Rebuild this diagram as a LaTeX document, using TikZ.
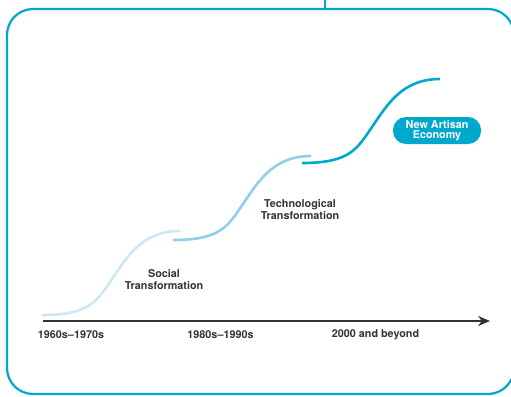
\documentclass[tikz,border=0pt]{standalone}
\usepackage{fontspec}
\setmainfont{TeX Gyre Heros}
\usetikzlibrary{arrows.meta}
\definecolor{cyanline}{HTML}{00A8CB}
\definecolor{midline}{HTML}{8FD0E6}
\definecolor{paleline}{HTML}{CDE8F2}
\definecolor{labelgray}{HTML}{333333}
\tikzset{
    wave/.style={line width=2.6pt},
    stagetext/.style={text=labelgray, font=\bfseries\fontsize{10.8}{12}\selectfont, align=center, inner sep=0pt},
    pill/.style={fill=cyanline, text=white, font=\bfseries\fontsize{10.8}{10}\selectfont, align=center,
        rounded corners=13pt, minimum width=88pt, minimum height=27pt, inner sep=0pt}
}
\begin{document}
\begin{tikzpicture}[x=1pt, y=-1pt]

        \useasboundingbox (0,0) rectangle (511,396);
        \clip (0,0) rectangle (511,396);
        \draw[cyanline, line width=2.2pt, rounded corners=26pt] (7,9) rectangle (514,394);
        \draw[cyanline, line width=2.2pt] (325,0) -- (325,9);

        \foreach \col/\x/\y in {paleline/42/315, midline/173/240, cyanline/302/163}
            \draw[wave, \col, shift={(\x,\y)}] (0,0) .. controls (48,0) and (55,-14) .. (70,-36)
                .. controls (85,-58) and (100,-84) .. (138,-84);

        \coordinate (axisstart) at (43,321);
        \coordinate (axisend) at (490,321);
        \draw[-{Stealth[length=12pt,width=10pt]}, labelgray, line width=1.3pt] (axisstart) -- (axisend);

        \node[stagetext] (era1) at (71,335) {1960s--1970s};
        \node[stagetext] (era2) at (220.5,335) {1980s--1990s};
        \node[stagetext] (era3) at (375.5,335) {2000 and beyond};

        \node[stagetext] (social) at (164,280) {Social\\Transformation};
        \node[stagetext] (techno) at (300,210) {Technological\\Transformation};
        \node[pill] (artisan) at (437,130.5) {New Artisan\\Economy};
    \end{tikzpicture}
\end{document}
